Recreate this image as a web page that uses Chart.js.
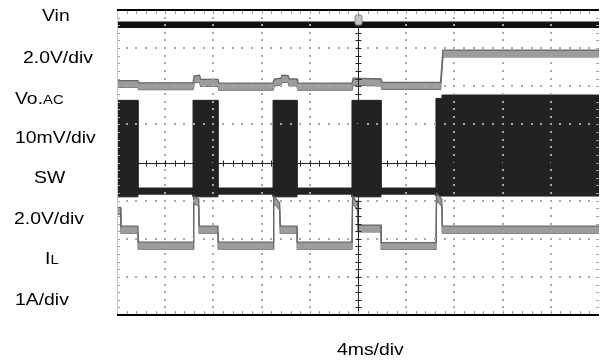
<!DOCTYPE html>
<html>
<head>
<meta charset="utf-8">
<script src="https://cdn.jsdelivr.net/npm/chart.js@4.4.0/dist/chart.umd.min.js"></script>
<style>
	html, body { margin: 0; padding: 0; background: #fff; }
	#wrap { position: relative; width: 600px; height: 362px; overflow: hidden; }
	#scope { position: absolute; left: 0; top: 0; }
	.lbl {
		position: absolute;
		font-family: Arial, "Liberation Sans", sans-serif;
		font-size: 17px;
		line-height: 17px;
		color: #000;
		white-space: nowrap;
		transform-origin: 0 50%;
		transform: scaleX(1.14);
	}
	.sm { font-size: 13px; }
</style>
</head>
<body>
<div id="wrap">
	<canvas id="scope" width="600" height="362"></canvas>
	<div class="lbl" style="left:42px;top:7px">Vin</div>
	<div class="lbl" style="left:23px;top:49px">2.0V/div</div>
	<div class="lbl" style="left:15px;top:90px">Vo.<span class="sm">AC</span></div>
	<div class="lbl" style="left:15px;top:129px">10mV/div</div>
	<div class="lbl" style="left:34px;top:169px">SW</div>
	<div class="lbl" style="left:14px;top:210px">2.0V/div</div>
	<div class="lbl" style="left:45px;top:250px">I<span class="sm">L</span></div>
	<div class="lbl" style="left:15px;top:291px">1A/div</div>
	<div class="lbl" style="left:337px;top:341px">4ms/div</div>
</div>
<script>
// time axis in ms (4 ms/div, 10 div), vertical axis in divisions (8 div)
const xMax = 40;
const yMax = 8;

// Vin
const vinT = [0, 40];
const vinV = [7.61, 7.61];

// Vo.AC ripple
const voT = [0, 1.74, 1.80, 6.31, 6.40, 6.85, 6.95, 8.38, 8.45, 12.95, 13.05, 13.60, 13.70, 14.20, 14.30, 14.94, 15.00, 19.50, 19.60, 21.91, 22.00, 26.85, 27.05, 40];
const voV = [6.06, 6.06, 6.00, 6.00, 6.18, 6.20, 6.09, 6.09, 5.99, 5.99, 6.10, 6.12, 6.20, 6.19, 6.10, 6.10, 5.99, 5.99, 6.12, 6.10, 6.01, 6.01, 6.86, 6.86];

// SW node: burst envelope (top / bottom)
const swT = [0, 1.74, 1.74, 6.31, 6.31, 8.38, 8.38, 12.95, 12.95, 14.94, 14.94, 19.50, 19.50, 21.91, 21.91, 26.47, 26.47, 26.97, 26.97, 40];
const swTop = [5.63, 5.63, 3.33, 3.33, 5.63, 5.63, 3.33, 3.33, 5.63, 5.63, 3.33, 3.33, 5.63, 5.63, 3.33, 3.33, 5.68, 5.68, 5.77, 5.77];
const swBot = [3.10, 3.10, 3.17, 3.17, 3.10, 3.10, 3.17, 3.17, 3.10, 3.10, 3.17, 3.17, 3.10, 3.10, 3.17, 3.17, 3.12, 3.12, 3.12, 3.12];

// inductor current
const ilT = [0, 0.30, 0.33, 1.74, 1.76, 6.31, 6.36, 6.78, 6.82, 8.38, 8.40, 12.95, 13.00, 13.50, 13.55, 14.94, 14.96, 19.50, 19.55, 19.95, 20.00, 21.91, 21.93, 26.47, 26.52, 26.95, 27.00, 40];
const ilV = [2.73, 2.73, 2.24, 2.24, 1.82, 1.82, 3.03, 2.95, 2.24, 2.24, 1.82, 1.82, 3.03, 2.85, 2.24, 2.24, 1.82, 1.82, 3.03, 2.85, 2.27, 2.27, 1.81, 1.81, 3.10, 2.95, 2.24, 2.24];

const bandHalf = 0.09; // trace thickness on screen, in divisions

const pts = (t, v, off) => t.map((x, i) => ({ x: x, y: v[i] + (off || 0) }));

function trace(data, color, width, fill, fillColor) {
	return {
		data: data,
		borderColor: color,
		backgroundColor: fillColor || color,
		borderWidth: width,
		pointRadius: 0,
		tension: 0,
		fill: fill || false,
	};
}

// scope graticule: dotted grid, crosshair with minor ticks, frame
const graticule = {
	id: "graticule",
	afterDatasetsDraw(chart) {
		const ctx = chart.ctx;
		const xs = chart.scales.x;
		const ys = chart.scales.y;
		const a = chart.chartArea;
		ctx.save();
		// dots
		ctx.fillStyle = "#a8a8a8";
		for (let d = 1; d < 10; d++) {
			if (d === 5) continue;
			const px = Math.round(xs.getPixelForValue(d * 4));
			for (let m = 1; m < yMax * 5; m++) {
				const py = Math.round(ys.getPixelForValue(m / 5));
				ctx.fillRect(px - 1, py - 1, 2, 2);
			}
		}
		for (let d = 1; d < yMax; d++) {
			if (d === 4) continue;
			const py = Math.round(ys.getPixelForValue(d));
			for (let m = 1; m < 50; m++) {
				const px = Math.round(xs.getPixelForValue(m * 0.8));
				ctx.fillRect(px - 1, py - 1, 2, 2);
			}
		}
		// crosshair
		const cx = Math.round(xs.getPixelForValue(20)) + 0.5;
		const cy = Math.round(ys.getPixelForValue(4)) + 0.5;
		ctx.strokeStyle = "#222";
		ctx.lineWidth = 1;
		ctx.beginPath();
		ctx.moveTo(a.left, cy); ctx.lineTo(a.right, cy);
		ctx.moveTo(cx, a.top); ctx.lineTo(cx, a.bottom);
		for (let m = 1; m < 50; m++) {
			const px = Math.round(xs.getPixelForValue(m * 0.8)) + 0.5;
			ctx.moveTo(px, cy - 3); ctx.lineTo(px, cy + 3);
		}
		for (let m = 1; m < yMax * 5; m++) {
			const py = Math.round(ys.getPixelForValue(m / 5)) + 0.5;
			ctx.moveTo(cx - 3, py); ctx.lineTo(cx + 3, py);
		}
		ctx.stroke();
		// edge ticks
		ctx.strokeStyle = "#a0a0a0";
		ctx.beginPath();
		for (let m = 1; m < 50; m++) {
			const px = Math.round(xs.getPixelForValue(m * 0.8)) + 0.5;
			ctx.moveTo(px, a.top); ctx.lineTo(px, a.top + 4);
			ctx.moveTo(px, a.bottom); ctx.lineTo(px, a.bottom - 4);
		}
		for (let m = 1; m < yMax * 5; m++) {
			const py = Math.round(ys.getPixelForValue(m / 5)) + 0.5;
			ctx.moveTo(a.left, py); ctx.lineTo(a.left + 3, py);
			ctx.moveTo(a.right, py); ctx.lineTo(a.right - 3, py);
		}
		ctx.stroke();
		// frame
		ctx.strokeStyle = "#c8c8c8";
		ctx.beginPath();
		ctx.moveTo(a.left + 0.5, a.top); ctx.lineTo(a.left + 0.5, a.bottom);
		ctx.stroke();
		ctx.strokeStyle = "#000";
		ctx.lineWidth = 2;
		ctx.beginPath();
		ctx.moveTo(a.left, a.top); ctx.lineTo(a.right, a.top);
		ctx.moveTo(a.left, a.bottom); ctx.lineTo(a.right, a.bottom);
		ctx.stroke();
		// trigger marker on the centre line
		ctx.fillStyle = "#c4c4c4";
		ctx.strokeStyle = "#8a8a8a";
		ctx.lineWidth = 1;
		ctx.beginPath();
		ctx.roundRect(cx - 3.5, a.top + 5, 7, 10, 2);
		ctx.fill();
		ctx.stroke();
		ctx.restore();
	},
};

new Chart(document.getElementById("scope"), {
	type: "line",
	data: {
		datasets: [
			trace(pts(ilT, ilV, bandHalf), "#666", 1.3, "+1", "#9c9c9c"),
			trace(pts(ilT, ilV, -bandHalf), "#666", 1.3),
			trace(pts(voT, voV, bandHalf), "#666", 1.3, "+1", "#9c9c9c"),
			trace(pts(voT, voV, -bandHalf), "#666", 1.3),
			trace(pts(vinT, vinV), "#111", 6.5),
			trace(pts(swT, swTop), "#222", 1, "+1"),
			trace(pts(swT, swBot), "#222", 1),
		],
	},
	options: {
		responsive: false,
		animation: false,
		layout: { padding: { left: 117, top: 10, right: 1, bottom: 47 } },
		plugins: { legend: { display: false }, tooltip: { enabled: false } },
		scales: {
			x: { type: "linear", min: 0, max: xMax, display: false },
			y: { type: "linear", min: 0, max: yMax, display: false },
		},
	},
	plugins: [graticule],
});
</script>
</body>
</html>
